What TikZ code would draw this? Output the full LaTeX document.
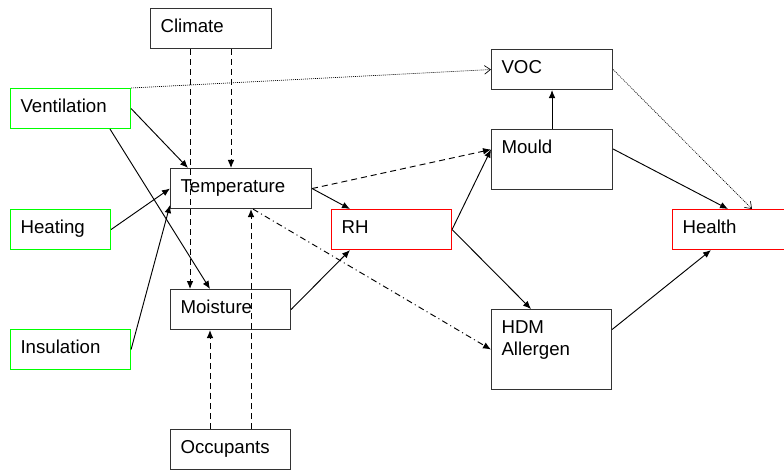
\documentclass[tikz,border=0pt]{standalone}
\usepackage{fontspec}
\setmainfont{Liberation Sans}
\usetikzlibrary{arrows.meta,calc}

\tikzset{
    box/.style={draw=black!80, line width=0.8pt, anchor=north west, inner xsep=7.5pt, inner ysep=0pt,
        align=left, text width=75pt, text height=18pt, text depth=12pt, font=\fontsize{14pt}{16.5pt}\selectfont},
    given/.style={box, draw=green},
    outcome/.style={box, draw=red},
    link/.style={line width=0.7pt, -{Latex[length=6pt,width=5pt]}},
    dashline/.style={dash pattern=on 4.5pt off 3pt},
    dashdot/.style={dash pattern=on 4.5pt off 2.5pt on 0.8pt off 2.5pt},
    weak/.style={line width=0.5pt, dash pattern=on 0.75pt off 0.75pt, -{Straight Barb[length=4.5pt,width=6.5pt]}}
}

\begin{document}
\begin{tikzpicture}[x=0.75pt, y=-0.75pt]
    \useasboundingbox (0,0) rectangle (784,470);

    % boxes, placed by their top left corner
    \node[box, text width=75.75pt] (climate) at (150,8) {Climate};
    \node[given] (vent) at (10,88) {Ventilation};
    \node[given, text width=60pt] (heat) at (10,209) {Heating};
    \node[given] (insul) at (10,329) {Insulation};
    \node[box, text width=90.75pt] (temp) at (170,168) {Temperature};
    \node[box] (moist) at (170,289) {Moisture};
    \node[box] (occ) at (170,429) {Occupants};
    \node[outcome] (rh) at (331,209) {RH};
    \node[box, text width=75.75pt] (voc) at (491,49) {VOC};
    \node[box, text width=75.75pt, text depth=27pt] (mould) at (491,129) {Mould};
    \node[box, text depth=42pt] (hdm) at (491,309) {HDM\\Allergen};
    \node[outcome] (health) at (672,209) {Health};

    \draw[link, dashline] ($(climate.south west)+(40,0)$) -- ($(moist.north west)+(20,0)$);
    \draw[link, dashline] ($(climate.south west)+(81,0)$) -- ($(temp.north west)+(61,0)$);
    \draw[link, dashline] ($(occ.north west)+(40,0)$) -- ($(moist.south west)+(40,0)$);
    \draw[link, dashline] ($(occ.north west)+(81,0)$) -- ($(temp.south west)+(81,0)$);

    \draw[link] (vent.east) -- ($(temp.north west)+(18,0)$);
    \draw[link] ($(vent.south west)+(100,0)$) -- ($(moist.north west)+(40,0)$);
    \draw[link] (heat.east) -- (temp.west);
    \draw[link] (insul.east) -- ($(temp.south west)+(0,-4)$);

    \draw[link] (temp.east) -- ($(rh.north west)+(19,0)$);
    \draw[link] (moist.east) -- ($(rh.south west)+(19,0)$);
    \draw[link, dashline] (temp.east) -- ($(mould.west)+(0,-10)$);
    \draw[link, dashdot] ($(temp.south west)+(83,0)$) -- (hdm.west);

    \draw[link] (rh.east) -- ($(mould.west)+(0,-10)$);
    \draw[link] (rh.east) -- ($(hdm.north west)+(40,0)$);
    \draw[link] (mould.north) -- (voc.south);
    \draw[link] ($(mould.north east)+(0,20)$) -- ($(health.north west)+(56,0)$);
    \draw[link] ($(hdm.east)+(0,-20)$) -- ($(health.south west)+(39,0)$);

    \draw[weak] (vent.north east) -- (voc.west);
    \draw[weak] (voc.east) -- ($(health.north west)+(80,0)$);
\end{tikzpicture}
\end{document}
